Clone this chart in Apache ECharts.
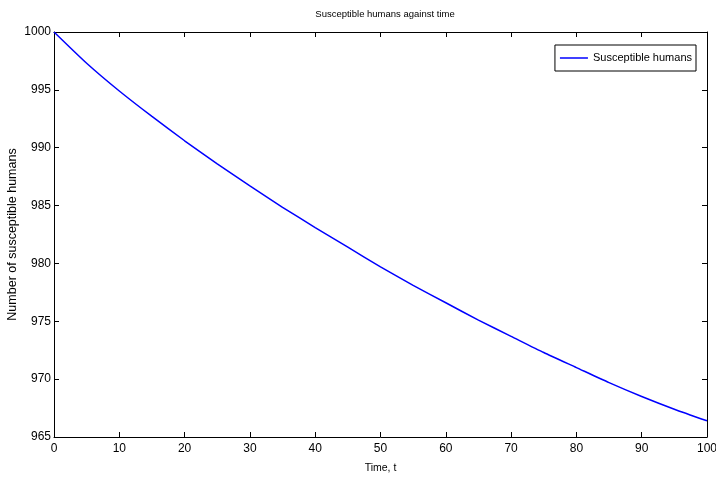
<!DOCTYPE html>
<html>
<head>
<meta charset="utf-8">
<script src="https://cdn.jsdelivr.net/npm/echarts@6/dist/echarts.min.js"></script>
<style>
  html, body { margin: 0; padding: 0; background: #fff; }
  #chart { width: 716px; height: 481px; }
</style>
</head>
<body>
<div id="chart"></div>
<script>
// time points (t) and susceptible humans
var times = [0, 5, 10, 15, 20, 25, 30, 35, 40, 45, 50, 55, 60, 65, 70, 75, 80, 85, 90, 95, 100];
var susceptible = [1000, 997.3, 994.9, 992.7, 990.6, 988.6, 986.7, 984.85, 983.1, 981.4, 979.7,
    978.1, 976.6, 975.1, 973.7, 972.3, 971.0, 969.7, 968.5, 967.4, 966.4];
var seriesName = 'Susceptible humans';

var font = '"Liberation Sans", Arial, sans-serif';

var chart = echarts.init(document.getElementById('chart'));

// matlab style box: inward ticks on every side
function boxAxis(position, showLabels, opts) {
    var ax = {
        position: position,
        axisLine: { show: true, onZero: false, lineStyle: { color: '#000', width: 1 } },
        axisTick: { show: true, inside: true, length: 5, lineStyle: { color: '#000' } },
        axisLabel: { show: showLabels, color: '#000', fontFamily: font, fontSize: 12,
            formatter: function (v) { return String(v); } },
        splitLine: { show: false }
    };
    return Object.assign(ax, opts);
}

var xCommon = { type: 'value', min: 0, max: 100, interval: 10 };
var yCommon = { type: 'value', min: 965, max: 1000, interval: 5 };

var option = {
    animation: false,
    backgroundColor: '#fff',
    title: {
        text: 'Susceptible humans against time',
        left: 380, top: 4, textAlign: 'center',
        textStyle: { fontFamily: font, fontSize: 9.5, fontWeight: 'normal', color: '#000' }
    },
    grid: { left: 54, right: 9, top: 32, bottom: 44, outerBoundsMode: 'none' },
    legend: {
        data: [{ name: seriesName, icon: 'rect' }],
        right: 20, top: 45,
        orient: 'vertical',
        padding: [5, 4, 5, 5],
        itemWidth: 28, itemHeight: 1.5,
        borderColor: '#000', borderWidth: 1,
        backgroundColor: '#fff',
        textStyle: { fontFamily: font, fontSize: 11, color: '#000', lineHeight: 16 }
    },
    xAxis: [
        boxAxis('bottom', true, Object.assign({
            name: 'Time, t', nameLocation: 'middle', nameGap: 26, nameMoveOverlap: false,
            nameTextStyle: { fontFamily: font, fontSize: 10.5, color: '#000' }
        }, xCommon)),
        boxAxis('top', false, Object.assign({}, xCommon))
    ],
    yAxis: [
        boxAxis('left', true, Object.assign({
            name: 'Number of susceptible humans', nameLocation: 'middle', nameGap: 35, nameMoveOverlap: false,
            nameTextStyle: { fontFamily: font, fontSize: 12.5, color: '#000' }
        }, yCommon)),
        boxAxis('right', false, Object.assign({}, yCommon))
    ],
    series: [{
        name: seriesName,
        type: 'line',
        symbol: 'none',
        smooth: 0.2,
        lineStyle: { color: '#0000ff', width: 1.5 },
        itemStyle: { color: '#0000ff' },
        data: times.map(function (t, i) { return [t, susceptible[i]]; })
    }]
};

option.xAxis[0].axisLabel.margin = 6;
option.yAxis[0].axisLabel.margin = 3;

chart.setOption(option);
</script>
</body>
</html>
